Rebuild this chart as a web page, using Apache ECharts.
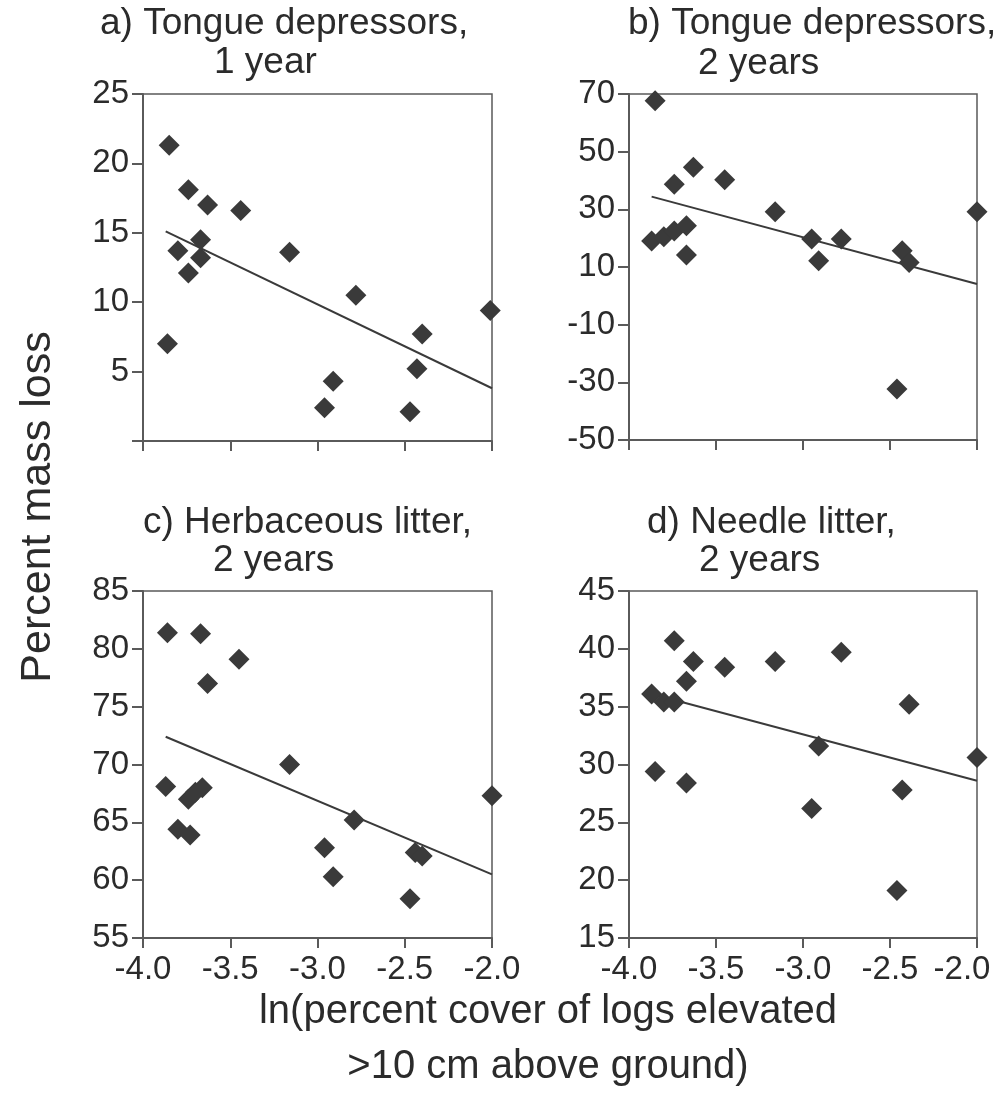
<!DOCTYPE html>
<html>
<head>
<meta charset="utf-8">
<script src="https://cdn.jsdelivr.net/npm/echarts@6/dist/echarts.min.js"></script>
<style>
  html, body { margin: 0; padding: 0; background: #fff; }
  #main { width: 995px; height: 1099px; }
</style>
</head>
<body>
<div id="main"></div>
<script>
// a) tongue depressors, 1 year
var aX = [-3.85, -3.74, -3.63, -3.44, -3.67, -3.80, -3.67, -3.74, -3.16, -2.78, -2.01, -2.40, -2.43, -2.91, -2.96, -2.47, -3.86];
var aY = [21.3, 18.1, 17.0, 16.6, 14.5, 13.7, 13.2, 12.1, 13.6, 10.5, 9.4, 7.7, 5.2, 4.3, 2.4, 2.1, 7.0];
var aFit = [[-3.87, 15.1], [-2.0, 3.8]];

// b) tongue depressors, 2 years
var bX = [-3.85, -3.63, -3.74, -3.45, -3.16, -2.0, -3.87, -3.80, -3.74, -3.67, -3.67, -2.95, -2.91, -2.78, -2.43, -2.39, -2.46];
var bY = [67.7, 44.6, 38.7, 40.3, 29.2, 29.2, 19.0, 20.5, 22.5, 24.3, 14.2, 19.7, 12.2, 19.7, 15.6, 11.6, -32.3];
var bFit = [[-3.87, 34.4], [-2.0, 4.1]];

// c) herbaceous litter, 2 years
var cX = [-3.86, -3.67, -3.45, -3.63, -3.16, -3.87, -3.66, -3.70, -3.74, -3.80, -3.73, -2.0, -2.79, -2.96, -2.91, -2.44, -2.40, -2.47];
var cY = [81.4, 81.3, 79.1, 77.0, 70.0, 68.1, 68.0, 67.6, 67.0, 64.4, 63.9, 67.3, 65.2, 62.8, 60.3, 62.4, 62.1, 58.4];
var cFit = [[-3.87, 72.4], [-2.0, 60.5]];

// d) needle litter, 2 years
var dX = [-3.74, -2.78, -3.63, -3.16, -3.45, -3.67, -3.87, -3.80, -3.74, -2.39, -2.91, -2.0, -3.85, -3.67, -2.43, -2.95, -2.46];
var dY = [40.7, 39.7, 38.9, 38.9, 38.4, 37.2, 36.1, 35.4, 35.4, 35.2, 31.6, 30.6, 29.4, 28.4, 27.8, 26.2, 19.1];
var dFit = [[-3.87, 36.1], [-2.0, 28.6]];

var xTicks = [-4, -3.5, -3, -2.5, -2];
var yRanges = [[0, 25, 5], [-50, 70, 20], [55, 85, 5], [15, 45, 5]];
var titles = [
  ['a) Tongue depressors,', '1 year'],
  ['b) Tongue depressors,', '2 years'],
  ['c) Herbaceous litter,', '2 years'],
  ['d) Needle litter,', '2 years']
];

var FONT = '"Liberation Sans", Arial, Helvetica, sans-serif';
var INK = '#2b2b2b';
var AXIS = '#5a5a5a';

var chartDom = document.getElementById('main');
var myChart = echarts.init(chartDom);

function pairs(xs, ys) {
  var out = [];
  for (var i = 0; i < xs.length; i++) out.push([xs[i], ys[i]]);
  return out;
}

var grids = [
  { left: 143, top: 94, width: 349, height: 347 },
  { left: 629, top: 94, width: 348, height: 346 },
  { left: 143, top: 591, width: 349, height: 347 },
  { left: 629, top: 591, width: 348, height: 347 }
];

var xAxes = [], yAxes = [], series = [];
var pts = [pairs(aX, aY), pairs(bX, bY), pairs(cX, cY), pairs(dX, dY)];
var fits = [aFit, bFit, cFit, dFit];

for (var i = 0; i < 4; i++) {
  grids[i].show = true;
  grids[i].borderColor = AXIS;
  grids[i].borderWidth = 1.5;
  grids[i].backgroundColor = 'transparent';
  grids[i].containLabel = false;
  grids[i].outerBoundsMode = 'none';
  xAxes.push({
    type: 'value',
    gridIndex: i,
    min: xTicks[0],
    max: xTicks[xTicks.length - 1],
    interval: 0.5,
    splitLine: { show: false },
    axisLine: { onZero: false, lineStyle: { color: AXIS, width: 2 } },
    axisTick: { inside: false, length: 10, lineStyle: { color: AXIS, width: 2 } },
    axisLabel: {
      show: i >= 2,
      margin: 15,
      fontSize: 33,
      fontFamily: FONT,
      color: INK,
      hideOverlap: false,
      formatter: function (v) { return v.toFixed(1); }
    }
  });
  var r = yRanges[i];
  yAxes.push({
    type: 'value',
    gridIndex: i,
    min: r[0],
    max: r[1],
    interval: r[2],
    splitLine: { show: false },
    axisLine: { onZero: false, lineStyle: { color: AXIS, width: 2 } },
    axisTick: { inside: false, length: 11, lineStyle: { color: AXIS, width: 2 } },
    axisLabel: {
      margin: 14,
      fontSize: 33,
      fontFamily: FONT,
      color: INK
    }
  });
  series.push({
    type: 'line',
    xAxisIndex: i,
    yAxisIndex: i,
    data: fits[i],
    symbol: 'none',
    silent: true,
    lineStyle: { color: '#3a3a3a', width: 2 },
    z: 2
  });
  series.push({
    type: 'scatter',
    xAxisIndex: i,
    yAxisIndex: i,
    data: pts[i],
    symbol: 'diamond',
    symbolSize: [21, 21],
    itemStyle: { color: '#3a3a3a', opacity: 1 },
    z: 3
  });
}

// panel a hides its 0 label
yAxes[0].axisLabel.formatter = function (v) { return v === 0 ? '' : String(v); };

// panel d: last label pulled in so it stays on the page
xAxes[3].axisLabel.formatter = function (v) {
  return v === -2 ? '{edge|' + v.toFixed(1) + '}' : v.toFixed(1);
};
xAxes[3].axisLabel.rich = {
  edge: { fontSize: 33, fontFamily: FONT, color: INK, padding: [0, 30, 0, 0] }
};

var titleSpots = [
  [[100, 5], [214, 44]],
  [[628, 5], [698, 45]],
  [[143, 504], [213, 542]],
  [[647, 504], [699, 542]]
];

var graphics = [];
for (var t = 0; t < 4; t++) {
  for (var ln = 0; ln < 2; ln++) {
    graphics.push({
      type: 'text',
      left: titleSpots[t][ln][0],
      top: titleSpots[t][ln][1],
      silent: true,
      style: {
        text: titles[t][ln],
        font: '37px ' + FONT,
        fill: INK
      }
    });
  }
}

graphics.push({
  type: 'text',
  x: 38,
  y: 507,
  rotation: Math.PI / 2,
  silent: true,
  style: {
    text: 'Percent mass loss',
    font: '43px ' + FONT,
    fill: INK,
    align: 'center',
    verticalAlign: 'middle'
  }
});
graphics.push({
  type: 'text',
  x: 548,
  y: 1012,
  silent: true,
  style: {
    text: 'ln(percent cover of logs elevated',
    font: '40px ' + FONT,
    fill: INK,
    align: 'center',
    verticalAlign: 'middle'
  }
});
graphics.push({
  type: 'text',
  x: 548,
  y: 1067,
  silent: true,
  style: {
    text: '>10 cm above ground)',
    font: '40px ' + FONT,
    fill: INK,
    align: 'center',
    verticalAlign: 'middle'
  }
});

var option = {
  backgroundColor: '#fff',
  animation: false,
  grid: grids,
  xAxis: xAxes,
  yAxis: yAxes,
  series: series,
  graphic: graphics
};

option && myChart.setOption(option);
</script>
</body>
</html>
